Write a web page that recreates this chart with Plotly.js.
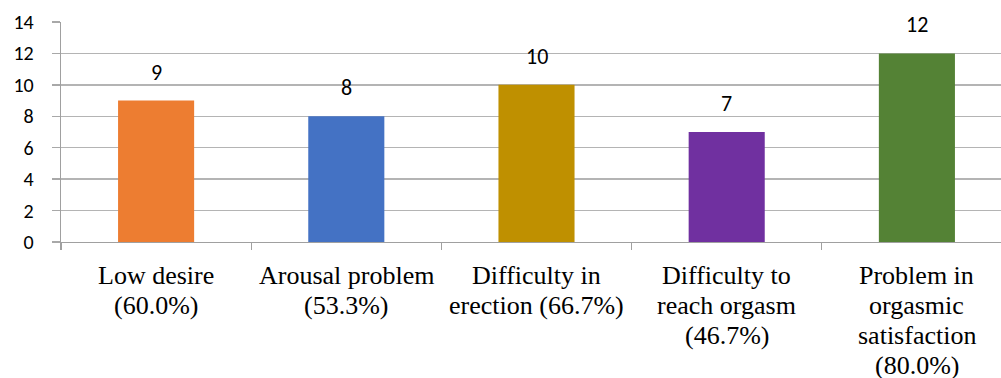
<!DOCTYPE html>
<html>
<head>
<meta charset="utf-8">
<script src="https://cdn.plot.ly/plotly-3.0.1.min.js"></script>
<style>
  html, body { margin: 0; padding: 0; overflow: hidden; background: #fff; }
  #chart { width: 1013px; height: 378px; }
</style>
</head>
<body>
<div id="chart"></div>
<script>
const categories = [
  "Low desire (60.0%)",
  "Arousal problem (53.3%)",
  "Difficulty in erection (66.7%)",
  "Difficulty to reach orgasm (46.7%)",
  "Problem in orgasmic satisfaction (80.0%)"
];
const categoryLines = [
  ["Low desire", "(60.0%)"],
  ["Arousal problem", "(53.3%)"],
  ["Difficulty in", "erection (66.7%)"],
  ["Difficulty to", "reach orgasm", "(46.7%)"],
  ["Problem in", "orgasmic", "satisfaction", "(80.0%)"]
];
const values = [9, 8, 10, 7, 12];
const barColors = ["#ED7D31", "#4472C4", "#BF9000", "#7030A0", "#548235"];
const yTicks = [0, 2, 4, 6, 8, 10, 12, 14];

const SERIF = "'Liberation Serif', 'Times New Roman', serif";
const SANS = "Carlito, Lato, 'Liberation Sans', sans-serif";

const trace = {
  type: "bar",
  x: categories,
  y: values,
  marker: { color: barColors },
  width: 0.4,
  hoverinfo: "none"
};

const annotations = categories.map((c, i) => ({
  x: c,
  y: values[i],
  xref: "x",
  yref: "y",
  text: String(values[i]),
  showarrow: false,
  yanchor: "bottom",
  yshift: 13,
  font: { family: SANS, size: 22, color: "#000" }
}));

const LINE_TOP = -33;
const LINE_STEP = 30;
categories.forEach((c, i) => {
  categoryLines[i].forEach((ln, j) => {
    annotations.push({
      x: c,
      y: 0,
      xref: "x",
      yref: "paper",
      text: ln,
      showarrow: false,
      yanchor: "middle",
      yshift: LINE_TOP - LINE_STEP * j,
      font: { family: SERIF, size: 26, color: "#000" }
    });
  });
});

const layout = {
  width: 1013,
  height: 378,
  margin: { l: 61, r: 1, t: 21.5, b: 136 },
  paper_bgcolor: "#fff",
  plot_bgcolor: "#fff",
  showlegend: false,
  bargap: 0.6,
  font: { family: SANS },
  xaxis: {
    type: "category",
    tickson: "boundaries",
    ticks: "outside",
    ticklen: 7,
    tickcolor: "#a0a0a0",
    tickwidth: 1.3,
    showline: true,
    linecolor: "#a0a0a0",
    linewidth: 1.3,
    showgrid: false,
    showticklabels: false,
    fixedrange: true
  },
  yaxis: {
    range: [0, 14],
    tickvals: yTicks,
    ticktext: yTicks.map(String),
    ticks: "outside",
    ticklen: 8,
    tickcolor: "#a8a8a8",
    tickwidth: 1.3,
    showline: true,
    linecolor: "#a0a0a0",
    linewidth: 1.3,
    showgrid: true,
    gridcolor: "#b4b4b4",
    gridwidth: 1.3,
    zeroline: false,
    ticklabelstandoff: 14,
    tickfont: { family: SANS, size: 20, color: "#000" },
    fixedrange: true
  },
  annotations: annotations
};

function applyFonts(gd) {
  gd.querySelectorAll(".annotation-text").forEach((t) => {
    const isNum = /^\d+$/.test(t.textContent.trim());
    t.style.setProperty("font-family", isNum ? SANS : SERIF, "important");
  });
  gd.querySelectorAll(".ytick text").forEach((t) => {
    t.style.setProperty("font-family", SANS, "important");
  });
}

Plotly.newPlot("chart", [trace], layout, { staticPlot: true, displayModeBar: false })
  .then(applyFonts);
</script>
</body>
</html>
